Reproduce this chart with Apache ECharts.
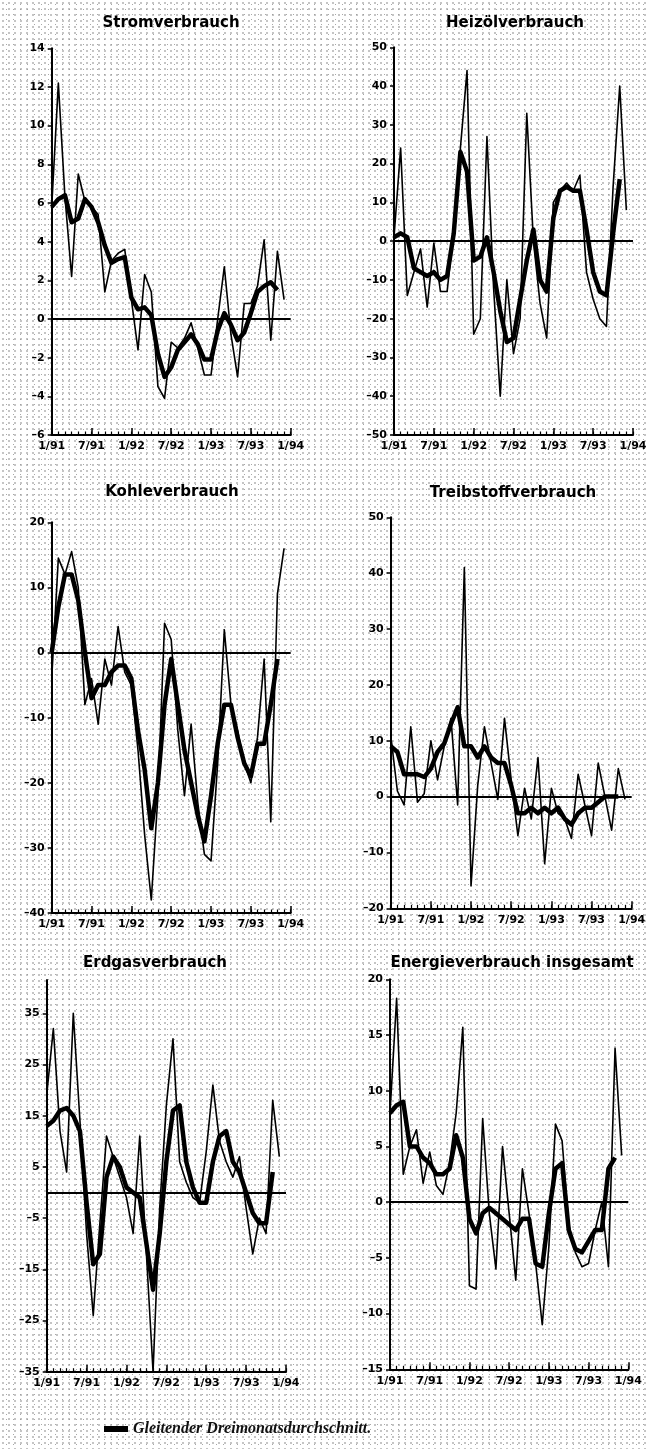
<!DOCTYPE html>
<html><head><meta charset="utf-8">
<script src="https://cdn.jsdelivr.net/npm/echarts@6/dist/echarts.min.js"></script>
<style>
html,body{margin:0;padding:0;width:647px;height:1449px;overflow:hidden;background-color:#fff;
background-image:radial-gradient(circle,#9a9a9a 0.6px,transparent 0.85px),radial-gradient(circle,#a8a8a8 0.55px,transparent 0.8px);
background-size:6px 6px,7px 5px;background-position:0 0,3px 2px;}
#c{width:647px;height:1449px;}
</style></head><body><div id="c"></div>
<script>
// Monate (Kategorien der x-Achse)
const months = ['1/91','2/91','3/91','4/91','5/91','6/91','7/91','8/91','9/91','10/91','11/91','12/91',
  '1/92','2/92','3/92','4/92','5/92','6/92','7/92','8/92','9/92','10/92','11/92','12/92',
  '1/93','2/93','3/93','4/93','5/93','6/93','7/93','8/93','9/93','10/93','11/93','12/93','1/94'];

// Stromverbrauch
const stromMonat = [5.8,12.2,6.3,2.2,7.5,6.1,5.8,5.4,1.4,3.0,3.4,3.6,1.0,-1.6,2.3,1.4,-3.5,-4.1,-1.2,-1.5,-1.0,-0.2,-1.5,-2.9,-2.9,0.0,2.7,-0.8,-3.0,0.8,0.8,1.7,4.1,-1.1,3.5,1.0];
const stromMittel = [5.8,6.2,6.4,5.0,5.2,6.2,5.8,5.0,3.8,2.9,3.1,3.2,1.1,0.5,0.6,0.2,-1.8,-3.0,-2.5,-1.6,-1.2,-0.8,-1.3,-2.1,-2.1,-0.6,0.3,-0.3,-1.1,-0.7,0.3,1.4,1.7,1.9,1.5];
// Heizölverbrauch
const heizoelMonat = [1,24,-14,-8,-2,-17,-0.5,-13,-13,3,24,44,-24,-20,27,-12,-40,-10,-29,-20,33,0,-16,-25,10,13,15,13,17,-8,-15,-20,-22,14,40,8];
const heizoelMittel = [1,2,1,-7,-8,-9,-8,-10,-9,2,23,18,-5,-4,1,-8,-18,-26,-25,-15,-5,3,-10,-13,6,13,14,13,13,3,-8,-13,-14,2,16];
// Kohleverbrauch
const kohleMonat = [-4,14.5,12,15.5,10,-8,-4,-11,-1,-5,4,-3,-5,-15,-28,-38,-22,4.5,2,-12,-22,-11,-23,-31,-32,-17,3.5,-8,-12,-17,-20,-13,-1,-26,9,16];
const kohleMittel = [0,7,12,12,8,0,-7,-5,-5,-3,-2,-2,-4,-12,-18,-27,-20,-8,-1,-8,-15,-20,-25,-29,-22,-14,-8,-8,-13,-17,-19,-14,-14,-8,-1];
// Treibstoffverbrauch
const treibMonat = [11,1,-1.5,12.5,-1,0.5,10,3,9,14,-1.5,41,-16,2,12.5,6,-0.5,14,3,-7,1.5,-4,7,-12,1.5,-3,-4,-7.5,4,-1.5,-7,6,0,-6,5,-0.5];
const treibMittel = [9,8,4,4,4,3.5,5,8,9.5,13,16,9,9,7,9,7,6,6,2,-3,-3,-2,-3,-2,-3,-2,-4,-5,-3,-2,-2,-1,0,0,0];
// Erdgasverbrauch
const erdgasMonat = [19,32,12,4,35,14,-8,-24,-6,11,7,3,-1,-8,11,-12,-35,-3,17,30,6,2,-1,-2,8,21,10,6,3,7,-3,-12,-5,-8,18,7];
const erdgasMittel = [13,14,16,16.5,15,12,-2,-14,-12,3,7,5,1,0,-1,-10,-19,-8,6,16,17,6,1,-2,-2,6,11,12,6,4,0,-4,-6,-6,4];
// Energieverbrauch insgesamt
const energieMonat = [8,18.3,2.5,5,6.5,1.7,4.5,1.5,0.7,3.5,8,15.7,-7.5,-7.8,7.5,-1,-6,5,-1,-7,3,-1,-5.5,-11,-4,7,5.5,-2,-4.5,-5.8,-5.5,-2.5,0,-5.8,13.8,4.2];
const energieMittel = [8,8.7,9,5,5,4,3.5,2.5,2.5,3,6,4,-1.5,-2.8,-1,-0.5,-1,-1.5,-2,-2.5,-1.5,-1.5,-5.5,-5.8,-1,3,3.5,-2.5,-4.2,-4.5,-3.5,-2.5,-2.5,3,4];
// Achsenbeschriftungen Erdgas
const erdgasTicks = [-35,-25,-15,-5,5,15,25,35];

const titles = ['Stromverbrauch','Heizölverbrauch','Kohleverbrauch','Treibstoffverbrauch','Erdgasverbrauch','Energieverbrauch insgesamt'];
const legendName = 'Gleitender Dreimonatsdurchschnitt.';

const panels = [
  {monthly: stromMonat, avg: stromMittel, min:-6, max:14, interval:2, grid:{left:51.7, top:48.3, width:239, height:386.7}, tp:[171,23]},
  {monthly: heizoelMonat, avg: heizoelMittel, min:-50, max:50, interval:10, grid:{left:394, top:47.3, width:239, height:387.7}, tp:[515,23]},
  {monthly: kohleMonat, avg: kohleMittel, min:-40, max:20, interval:10, grid:{left:51.7, top:522.3, width:239, height:390.7}, tp:[172,492]},
  {monthly: treibMonat, avg: treibMittel, min:-20, max:50, interval:10, grid:{left:390.7, top:517.3, width:241, height:391}, tp:[513,493]},
  {monthly: erdgasMonat, avg: erdgasMittel, min:-35, max:41.5, custom: erdgasTicks, grid:{left:46.7, top:980, width:239.3, height:391.7}, tp:[155,963]},
  {monthly: energieMonat, avg: energieMittel, min:-15, max:20, interval:5, grid:{left:390, top:979.3, width:238.3, height:390}, tp:[512,963]}
];

const FONT = '"DejaVu Sans", sans-serif';
const grids = [], xAxes = [], yAxes = [], series = [], graphics = [];
const fmt = v => String(v).replace('-', '\u2013');

panels.forEach((p, i) => {
  grids.push(Object.assign({outerBoundsMode:'none', containLabel:false}, p.grid));
  xAxes.push({
    gridIndex:i, type:'category', data:months, boundaryGap:false,
    axisLine:{show:true, onZero:false, lineStyle:{color:'#000', width:2}},
    axisTick:{show:true, inside:true, length:7, interval:5, alignWithLabel:true, lineStyle:{color:'#000', width:1.5}},
    axisLabel:{show:true, interval:5, margin:6, fontFamily:FONT, fontWeight:'bold', fontSize:11, color:'#000'},
    splitLine:{show:false}
  });
  xAxes.push({
    gridIndex:i, type:'category', data:months, boundaryGap:false, position:'bottom',
    axisLine:{show:false, onZero:false},
    axisTick:{show:true, inside:true, length:3.5, interval:0, lineStyle:{color:'#000', width:1.2}},
    axisLabel:{show:false}, splitLine:{show:false}
  });
  const y = {
    gridIndex:i, type:'value', min:p.min, max:p.max,
    axisLine:{show:true, onZero:false, lineStyle:{color:'#000', width:2}},
    axisTick:{show:true, inside:false, length:4, lineStyle:{color:'#000', width:1.5}},
    axisLabel:{show:true, margin:7, fontFamily:FONT, fontWeight:'bold', fontSize:11, color:'#000', formatter:fmt},
    splitLine:{show:false}
  };
  if (p.custom) {
    y.axisTick.customValues = p.custom;
    y.axisLabel.customValues = p.custom;
  } else {
    y.interval = p.interval;
  }
  yAxes.push(y);
  series.push({
    type:'line', name:'Monatswert', xAxisIndex:2*i, yAxisIndex:i, data:p.monthly,
    symbol:'none', silent:true, animation:false,
    lineStyle:{color:'#000', width:1.6, join:'round'}, itemStyle:{color:'#000'},
    markLine:{symbol:['none','none'], silent:true, animation:false, label:{show:false},
      lineStyle:{color:'#000', width:1.8, type:'solid'}, emphasis:{disabled:true}, data:[{yAxis:0}]}
  });
  series.push({
    type:'line', name:legendName, xAxisIndex:2*i, yAxisIndex:i, data:p.avg,
    symbol:'none', silent:true, animation:false,
    lineStyle:{color:'#000', width:4.5, join:'round'}, itemStyle:{color:'#000'}
  });
  graphics.push({type:'text', x:p.tp[0], y:p.tp[1], silent:true,
    style:{text:titles[i], font:'bold 15px ' + FONT, fill:'#000',
      textAlign:'center', textVerticalAlign:'middle', align:'center', verticalAlign:'middle'}});
});

const chart = echarts.init(document.getElementById('c'), null, {renderer:'canvas'});
chart.setOption({
  animation:false,
  backgroundColor:'transparent',
  grid:grids, xAxis:xAxes, yAxis:yAxes, series:series, graphic:graphics,
  legend:{data:[legendName], left:99, top:1416, icon:'rect', itemWidth:24, itemHeight:6,
    selectedMode:false,
    textStyle:{fontFamily:'"Liberation Serif", serif', fontStyle:'italic', fontWeight:'bold', fontSize:16, color:'#111'}}
});
</script></body></html>
